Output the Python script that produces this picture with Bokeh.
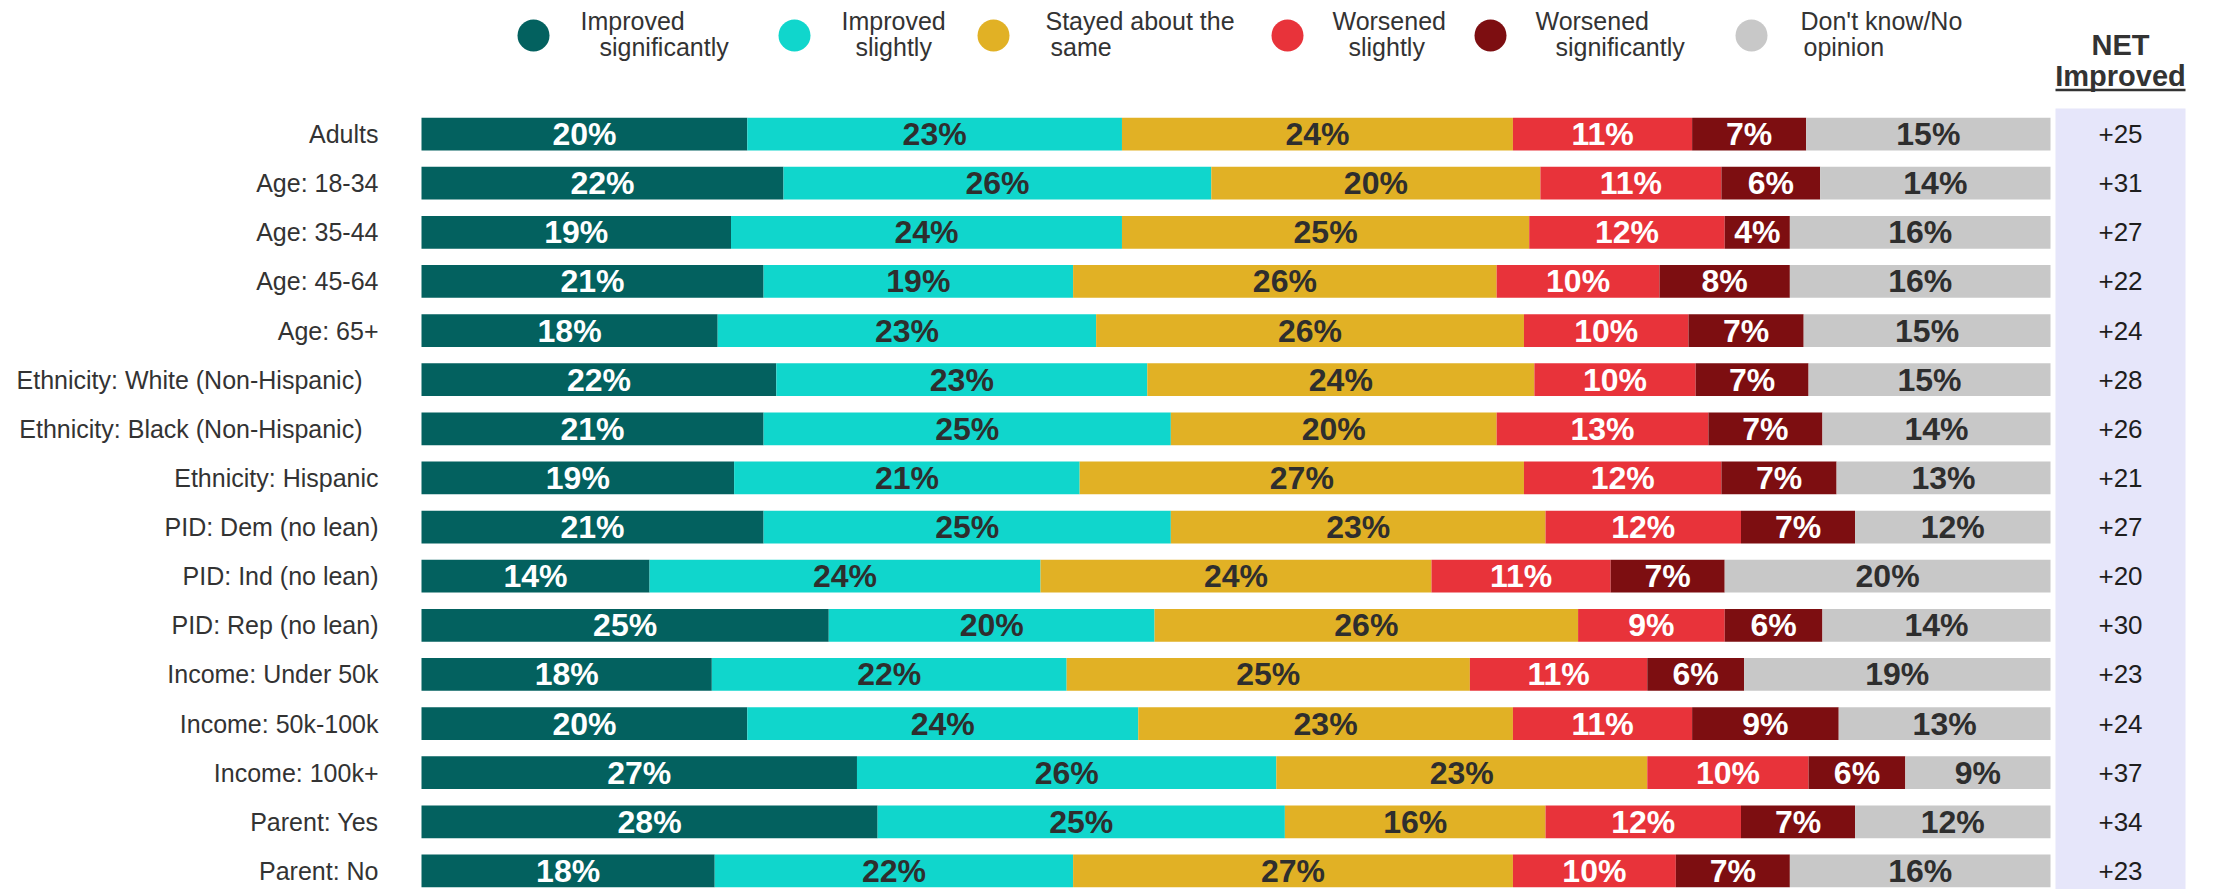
from bokeh.plotting import figure
from bokeh.models import ColumnDataSource, Range1d
from bokeh.core.properties import value
from bokeh.embed import file_html
from bokeh.resources import INLINE

# ---------------- data ----------------
categories = [
    "Adults", "Age: 18-34", "Age: 35-44", "Age: 45-64", "Age: 65+",
    "Ethnicity: White (Non-Hispanic)", "Ethnicity: Black (Non-Hispanic)",
    "Ethnicity: Hispanic", "PID: Dem (no lean)", "PID: Ind (no lean)",
    "PID: Rep (no lean)", "Income: Under 50k", "Income: 50k-100k",
    "Income: 100k+", "Parent: Yes", "Parent: No",
]
improved_significantly = [20, 22, 19, 21, 18, 22, 21, 19, 21, 14, 25, 18, 20, 27, 28, 18]
improved_slightly      = [23, 26, 24, 19, 23, 23, 25, 21, 25, 24, 20, 22, 24, 26, 25, 22]
stayed_same            = [24, 20, 25, 26, 26, 24, 20, 27, 23, 24, 26, 25, 23, 23, 16, 27]
worsened_slightly      = [11, 11, 12, 10, 10, 10, 13, 12, 12, 11, 9, 11, 11, 10, 12, 10]
worsened_significantly = [7, 6, 4, 8, 7, 7, 7, 7, 7, 7, 6, 6, 9, 6, 7, 7]
dont_know              = [15, 14, 16, 16, 15, 15, 14, 13, 12, 20, 14, 19, 13, 9, 12, 16]
net_improved           = [25, 31, 27, 22, 24, 28, 26, 21, 27, 20, 30, 23, 24, 37, 34, 23]

series_names = ["Improved significantly", "Improved slightly", "Stayed about the same",
                "Worsened slightly", "Worsened significantly", "Don't know/No opinion"]
legend_lines = [("Improved", "significantly"), ("Improved", "slightly"),
                ("Stayed about the", "same"), ("Worsened", "slightly"),
                ("Worsened", "significantly"), ("Don't know/No", "opinion")]
net_header = ("NET", "Improved")

# ---------------- styles ----------------
series_colors = ["#03615F", "#10D6CC", "#E1B125", "#E8333A", "#7D0E11", "#C8C8C8"]
label_colors = ["#FFFFFF", "#2E2E2E", "#2E2E2E", "#FFFFFF", "#FFFFFF", "#2E2E2E"]
TEXT = "#333333"
NET_BG = "#E6E6FA"
FONT = "Liberation Sans"

# ---------------- layout (pixels) ----------------
W, H = 2205, 889
PX0, PX100 = 421.0, 2050.0          # bar 0% and 100% positions
ROW0, PITCH = 133.6, 49.12          # first row centre and row pitch
BAR_H = 32.7
LABEL_RIGHT = 378.0
LONG_LABEL_SHIFT = -16
NET_CX, NET_HALF = 2120.0, 65.0
NET_TOP = 108.0
LEG_CIRCLE_X = [533, 794, 993, 1287, 1490, 1751]
LEG_LINE1_X = [580, 841, 1045, 1332, 1535, 1800]
LEG_LINE2_X = [599, 855, 1050, 1348, 1555, 1803]
LEG_CY, LEG_Y1, LEG_Y2 = 35, 20.5, 46
NET_Y1, NET_Y2, NET_UL = 44, 75, 89.5

xs = 100.0 / (PX100 - PX0)
def fx(px):
    return (px - PX0) * xs
def fy(py):
    return (py - ROW0) / PITCH

p = figure(width=W, height=H,
           x_range=Range1d(fx(0), fx(W)),
           y_range=Range1d(fy(H), fy(0)),
           output_backend="svg", toolbar_location=None, min_border=0)
p.axis.visible = False
p.grid.visible = False
p.outline_line_color = None
p.background_fill_color = "white"
p.border_fill_color = "white"

n = len(categories)
rows = list(range(n))

# NET column background
p.quad(left=[fx(NET_CX - NET_HALF)], right=[fx(NET_CX + NET_HALF)],
       top=[fy(NET_TOP)], bottom=[fy(H + 20)],
       fill_color=NET_BG, line_color=None)

# stacked bars (each row normalised to its total)
all_series = [improved_significantly, improved_slightly, stayed_same,
              worsened_slightly, worsened_significantly, dont_know]
totals = [sum(s[i] for s in all_series) for i in rows]
left = [0.0] * n
for k, vals in enumerate(all_series):
    share = [100.0 * vals[i] / totals[i] for i in rows]
    right = [left[i] + share[i] for i in rows]
    src = ColumnDataSource(dict(
        y=rows, left=left, right=right,
        mid=[(left[i] + right[i]) / 2 for i in rows],
        lab=[f"{v}%" for v in vals]))
    p.hbar(y="y", left="left", right="right", height=BAR_H / PITCH, source=src,
           fill_color=series_colors[k], line_color=None)
    p.text(x="mid", y="y", text="lab", source=src, text_align="center",
           text_baseline="middle", text_font=value(FONT), text_font_style="bold",
           text_font_size="32px", text_color=label_colors[k])
    left = right

# row labels
lab_src = ColumnDataSource(dict(
    x=[fx(LABEL_RIGHT)] * n, y=rows, t=categories,
    off=[LONG_LABEL_SHIFT if len(c) > 25 else 0 for c in categories]))
p.text(x="x", y="y", text="t", x_offset="off", source=lab_src, text_align="right",
       text_baseline="middle", text_font=value(FONT), text_font_size="25px",
       text_color=TEXT)

# NET values
net_src = ColumnDataSource(dict(x=[fx(NET_CX)] * n, y=rows,
                                t=[f"+{v}" if v > 0 else f"{v}" for v in net_improved]))
p.text(x="x", y="y", text="t", source=net_src, text_align="center",
       text_baseline="middle", text_font=value(FONT), text_font_size="26px",
       text_color="#1E1E1E")

# NET header
p.text(x=[fx(NET_CX)], y=[fy(NET_Y1)], text=[net_header[0]], text_align="center",
       text_baseline="middle", text_font=value(FONT), text_font_style="bold",
       text_font_size="29px", text_color=TEXT)
p.text(x=[fx(NET_CX)], y=[fy(NET_Y2)], text=[net_header[1]], text_align="center",
       text_baseline="middle", text_font=value(FONT), text_font_style="bold",
       text_font_size="29px", text_color=TEXT)
p.segment(x0=[fx(NET_CX - NET_HALF)], y0=[fy(NET_UL)], x1=[fx(NET_CX + NET_HALF)],
          y1=[fy(NET_UL)], line_color=TEXT, line_width=2.5)

# legend
p.scatter(x=[fx(v) for v in LEG_CIRCLE_X], y=[fy(LEG_CY)] * 6, size=32,
          marker="circle", fill_color=series_colors, line_color=None)
p.text(x=[fx(v) for v in LEG_LINE1_X], y=[fy(LEG_Y1)] * 6,
       text=[a for a, b in legend_lines], text_align="left",
       text_baseline="middle", text_font=value(FONT), text_font_size="25px",
       text_color=TEXT)
p.text(x=[fx(v) for v in LEG_LINE2_X], y=[fy(LEG_Y2)] * 6,
       text=[b for a, b in legend_lines], text_align="left",
       text_baseline="middle", text_font=value(FONT), text_font_size="25px",
       text_color=TEXT)

open("out.html", "w").write(file_html(p, INLINE))
